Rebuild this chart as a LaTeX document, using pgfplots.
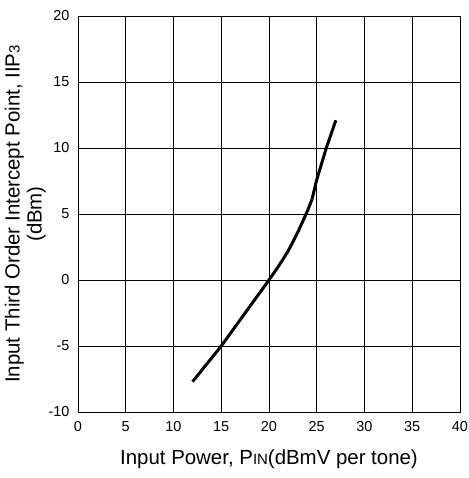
\documentclass[border=0pt]{standalone}
\usepackage{fontspec}
\setmainfont{Liberation Sans}
\usepackage{pgfplots}
\pgfplotsset{compat=1.18}

\begin{document}
\begin{tikzpicture}
\useasboundingbox (-78bp,-66bp) rectangle (391bp,412bp);
\begin{axis}[
  at={(0,0)}, anchor=south west,
  scale only axis,
  width=382bp, height=396bp,
  xmin=0, xmax=40, ymin=-10, ymax=20,
  xtick={0,5,...,40}, ytick={-10,-5,...,20},
  grid=major,
  major grid style={black, line width=0.9pt},
  axis line style={black, line width=1pt},
  major tick length=0pt,
  tick label style={font=\fontsize{14.5}{16}\selectfont},
  xticklabel style={yshift=-6bp},
  yticklabel style={xshift=-5bp},
  /pgf/number format/assume math mode=true,
  xlabel={Input Power, P{\fontsize{15}{16}\selectfont IN}(dBmV per tone)},
  ylabel={Input Third Order Intercept Point, IIP{\fontsize{15}{16}\selectfont 3}\\(dBm)},
  label style={font=\fontsize{20.5}{22}\selectfont, align=center},
  xlabel style={yshift=-11bp},
  ylabel style={yshift=-4bp},
]
\addplot[black, line width=3pt, smooth, tension=0.4] coordinates {
  (12,-7.7) (13,-6.8) (14,-5.9) (15,-5.0) (16,-4.0) (17,-3.0) (18,-2.0)
  (19,-1.0) (20,0) (21,1.05) (22,2.2) (23,3.6) (24,5.2) (24.5,6.1)
};
\addplot[black, line width=3pt] coordinates {
  (24.5,6.1) (25,7.6) (26,10) (27,12.1)
};
\end{axis}
\end{tikzpicture}
\end{document}
